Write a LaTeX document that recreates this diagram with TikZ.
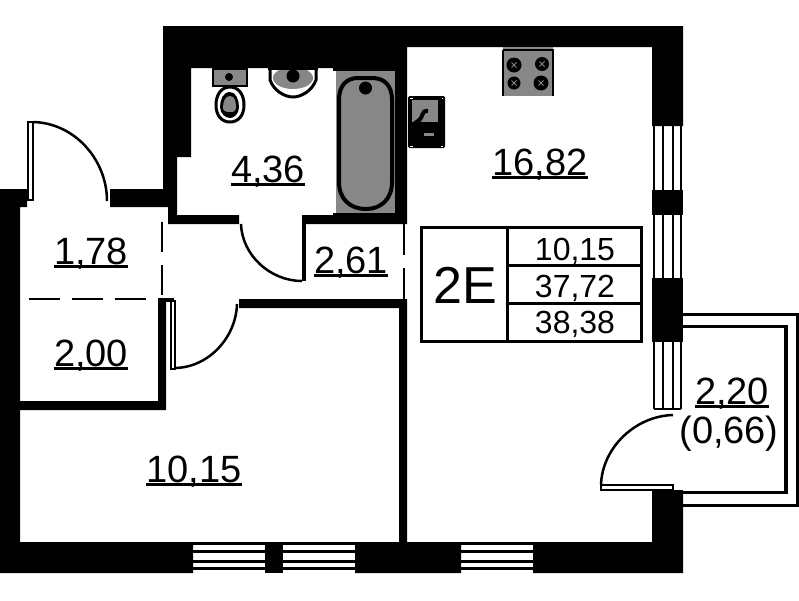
\documentclass[tikz,border=0pt]{standalone}
\usepackage{fontspec}
\setmainfont{Liberation Sans}
\newcommand\ulbl[1]{\setbox0\hbox{#1}\rlap{\rule[-3.5pt]{\wd0}{2.5pt}}\box0}
\definecolor{fix}{gray}{0.53}
\tikzset{
  wall/.style={fill=black,draw=none},
  thinline/.style={draw=black,line width=2pt,fill=none},
  arcline/.style={draw=black,line width=2.5pt,fill=none},
  lbl/.style={anchor=base,inner sep=0pt,font=\fontsize{38}{38}\selectfont},
  smalllbl/.style={anchor=base,inner sep=0pt,font=\fontsize{32}{32}\selectfont},
  dashh/.style={draw=black,line width=2.5pt,dash pattern=on 31pt off 12pt},
  dashv/.style={draw=black,line width=2.5pt,dash pattern=on 30pt off 13pt},
  glass/.style={draw=black,line width=2.5pt},
  tableline/.style={draw=black,line width=3pt}
}
\begin{document}
\begin{tikzpicture}[x=1pt,y=-1pt]
\useasboundingbox (0,0) rectangle (799,600);
\fill[white] (0,0) rectangle (799,600);
% main walls
\fill[wall] (163,26) -- (683,26) -- (683,126) -- (652,126) -- (652,47) -- (407,47) -- (407,224) -- (302,224) -- (302,215) -- (395,215) -- (395,68) -- (191,68) -- (191,157) -- (177,157) -- (177,215) -- (239,215) -- (239,224) -- (168,224) -- (168,207) -- (110,207) -- (110,189) -- (163,189) -- cycle;
\fill[wall] (0,189) -- (27,189) -- (27,207) -- (20,207) -- (20,401) -- (158,401) -- (158,298) -- (166,298) -- (166,410) -- (20,410) -- (20,542) -- (193,542) -- (193,573) -- (0,573) -- cycle;
\fill[wall] (239,299) -- (407,299) -- (407,542) -- (652,542) -- (652,490) -- (683,490) -- (683,573) -- (533,573) -- (533,542) -- (461,542) -- (461,573) -- (355,573) -- (355,542) -- (399,542) -- (399,308) -- (239,308) -- cycle;
\fill[wall] (265,542) rectangle (283,573);
\fill[wall] (533,542) rectangle (652,573);
\fill[wall] (652,190) rectangle (683,215);
\fill[wall] (652,278) rectangle (683,342);
\fill[wall] (302,215) rectangle (306,281);
\fill[wall] (333,68) rectangle (395,71);
\fill[wall] (333,213) rectangle (395,215);
% thin partition
\draw[thinline] (404,224) -- (404,255) (404,268) -- (404,299);
% dashed zone lines
\draw[dashh] (29,299) -- (146,299);
\draw[dashv] (162,222) -- (162,298);
% right windows
\foreach \xx in {654,663,673,681}{
  \draw[glass] (\xx,126) -- (\xx,190);
  \draw[glass] (\xx,215) -- (\xx,278);
  \draw[glass] (\xx,342) -- (\xx,409);
}
\draw[glass] (654,409) -- (681,409);
% bottom windows
\foreach \aa/\bb in {193/265,283/355,461/533}{
  \foreach \yy in {543.5,551.5,561.5,568.5}{
    \draw[glass] (\aa,\yy) -- (\bb,\yy);
  }
}
% balcony
\draw[draw=black,line width=3pt] (683,314.5) -- (797.5,314.5) -- (797.5,505.5) -- (683,505.5);
\draw[draw=black,line width=3pt] (683,326.5) -- (786,326.5) -- (786,492.5) -- (683,492.5);
\fill[wall] (784,326) rectangle (788,494);
% doors
\draw[thinline] (28,200) -- (28,122) -- (33,122) -- (33,200) -- cycle;
\draw[arcline] (33,122) .. controls (75,123) and (107,160) .. (107,201);
\fill[wall] (166,298) rectangle (174,302);
\draw[thinline] (171,300) -- (171,369) -- (175,369) -- (175,300);
\draw[arcline] (174,368) .. controls (208,368) and (236,338) .. (237,304);
\draw[arcline] (241,224) .. controls (242,255) and (270,281) .. (302,281);
\draw[thinline] (601,485) -- (601,490) -- (673,490) -- (673,485) -- cycle;
\draw[arcline] (601,485) .. controls (602,448) and (635,416) .. (673,415);
% bath
\fill[fix] (336,71) rectangle (395,213);
\draw[black,line width=4pt,fill=fix] (339,100) .. controls (339,85) and (347,78) .. (358,78) -- (372,78) .. controls (384,78) and (392,85) .. (392,100) -- (392,182) .. controls (392,199) and (381,209) .. (366,209) .. controls (350,209) and (339,199) .. (339,182) -- cycle;
\fill[black] (365.5,88) circle (6.5pt);
% toilet
\fill[black] (212,68) rectangle (248,87);
\fill[fix] (214,70) rectangle (246,85);
\fill[black] (229,77) circle (4pt);
\draw[black,line width=3pt,fill=white] (230,87) .. controls (221,87) and (216,95) .. (216,105) .. controls (216,116) and (222,122) .. (230,122) .. controls (238,122) and (244,116) .. (244,105) .. controls (244,95) and (239,87) .. (230,87) -- cycle;
\fill[black] (230,92) .. controls (223,92) and (220,100) .. (220,107) .. controls (220,114) and (226,118) .. (230,118) .. controls (234,118) and (239,114) .. (239,107) .. controls (239,100) and (236,92) .. (230,92) -- cycle;
\fill[fix] (230,96) .. controls (225,96) and (223,102) .. (223,108) .. controls (223,111) and (226,112) .. (230,112) .. controls (234,112) and (236,111) .. (236,108) .. controls (236,102) and (235,96) .. (230,96) -- cycle;
% basin
\draw[black,line width=3pt,fill=white] (270,68) -- (270,80) .. controls (274,91) and (285,97) .. (293,97) .. controls (301,97) and (312,91) .. (316,80) -- (316,68) -- cycle;
\fill[fix] (293,78) ellipse (20pt and 11pt);
\fill[black] (293,76) circle (6.5pt);
\fill[black] (268,66) rectangle (318,70);
% boiler
\fill[black,rounded corners=1.5pt] (408,96) rectangle (445,148);
\fill[fix] (412,100) rectangle (438,122);
\draw[white,line width=1pt] (410,98) -- (413,98) (442,98) -- (443,98) (410,146) -- (413,146) (441,146) -- (443,146);
\draw[black,line width=4pt] (428,111) .. controls (421,110) and (424,117) .. (418,121) -- (411,126);
\fill[fix] (424,133) rectangle (434,136);
% stove
\fill[fix] (503,47) rectangle (553,96);
\draw[black,line width=1.5pt] (503,50) -- (553,50) -- (553,96) (503,50) -- (503,96);
\foreach \cx/\cy/\rr in {514/65/7.5,542/64/7,514/83/6.5,541/83/7.5}{
  \fill[black] (\cx,\cy) circle (\rr pt);
  \draw[fix,line width=1pt] (\cx-2.5,\cy-2.5) -- (\cx+2.5,\cy+2.5) (\cx-2.5,\cy+2.5) -- (\cx+2.5,\cy-2.5);
}
% table
\draw[tableline] (421,227) rectangle (641,341);
\draw[tableline] (507,227) -- (507,341) (507,265) -- (641,265) (507,303) -- (641,303);
% labels
\node[lbl] (a) at (268,182) {\ulbl{4,36}};
\node[lbl] (b) at (540,175) {\ulbl{16,82}};
\node[lbl] (c) at (91,264) {\ulbl{1,78}};
\node[lbl] (d) at (91,366) {\ulbl{2,00}};
\node[lbl] (e) at (194,482) {\ulbl{10,15}};
\node[lbl] (f) at (351,273) {\ulbl{2,61}};
\node[lbl] (g) at (732,404) {\ulbl{2,20}};
\node[lbl] (h) at (729,443) {(0,66)};
\node[anchor=base,inner sep=0pt,font=\fontsize{52}{52}\selectfont] (i) at (465,303) {2E};
\node[smalllbl] (j) at (575,260) {10,15};
\node[smalllbl] (k) at (575,297) {37,72};
\node[smalllbl] (l) at (575,333) {38,38};
\end{tikzpicture}
\end{document}
